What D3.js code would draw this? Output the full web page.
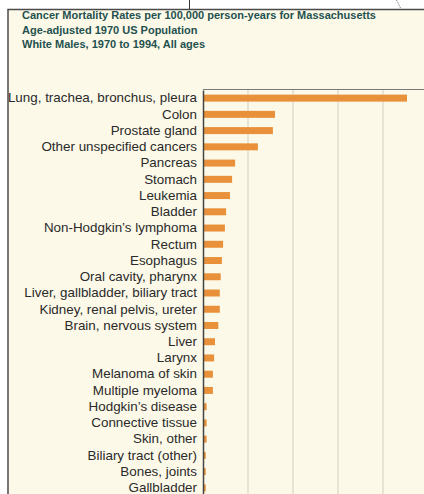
<!DOCTYPE html>
<html>
<head>
<meta charset="utf-8">
<script src="https://cdn.jsdelivr.net/npm/d3@7"></script>
<style>
html,body{margin:0;padding:0;background:#fff;}
svg{display:block;}
</style>
</head>
<body>
<svg id="chart" width="424" height="494"></svg>
<script>
const titleLines = [
  "Cancer Mortality Rates per 100,000 person-years for Massachusetts",
  "Age-adjusted 1970 US Population",
  "White Males, 1970 to 1994, All ages"
];
const categories = [
  "Lung, trachea, bronchus, pleura","Colon","Prostate gland","Other unspecified cancers",
  "Pancreas","Stomach","Leukemia","Bladder","Non-Hodgkin\u2019s lymphoma","Rectum",
  "Esophagus","Oral cavity, pharynx","Liver, gallbladder, biliary tract",
  "Kidney, renal pelvis, ureter","Brain, nervous system","Liver","Larynx",
  "Melanoma of skin","Multiple myeloma","Hodgkin\u2019s disease","Connective tissue",
  "Skin, other","Biliary tract (other)","Bones, joints","Gallbladder"
];
const rates = [
  68.0, 24.0, 23.3, 18.3,
  10.7, 9.7, 9.0, 7.7, 7.3, 6.7,
  6.3, 5.9, 5.6,
  5.6, 5.1, 4.0, 3.7,
  3.3, 3.3, 1.2, 1.2,
  1.2, 0.9, 0.9, 0.9
];
const gridTicks = [15, 30, 45, 60, 75];

const svg = d3.select("#chart");
const W = 424, H = 494;
const cream = "#fcf9e8";

svg.append("rect").attr("x",0).attr("y",0).attr("width",W).attr("height",H).attr("fill","#fff");
svg.append("line").attr("x1",189.5).attr("x2",189.5).attr("y1",0).attr("y2",9).attr("stroke","#333").attr("stroke-width",1);
svg.append("line").attr("x1",396.5).attr("y1",0).attr("x2",400.5).attr("y2",8)
  .attr("stroke","#666").attr("stroke-width",0.8).attr("stroke-dasharray","1.5,1");

svg.append("rect").attr("x",8).attr("y",9.5).attr("width",W).attr("height",H)
  .attr("fill",cream).attr("stroke","#4a4a4a").attr("stroke-width",1.5);

const title = svg.append("g").attr("font-family","Liberation Sans, Arial, sans-serif")
  .attr("font-weight","bold").attr("font-size","11px").attr("fill","#24514f");
titleLines.forEach((t,i)=>{
  title.append("text").attr("x",22).attr("y",19 + i*14.7).text(t);
});

const x = d3.scaleLinear().domain([0,75]).range([203,428]);
const y = d3.scaleBand().domain(categories).range([90,496]).paddingInner(0.57).paddingOuter(0.285);

svg.append("g").selectAll("line").data(gridTicks).join("line")
  .attr("x1",d=>x(d)).attr("x2",d=>x(d)).attr("y1",90).attr("y2",H)
  .attr("stroke","#e0dccf").attr("stroke-width",1.5);

svg.append("line").attr("x1",203).attr("x2",W).attr("y1",89.5).attr("y2",89.5)
  .attr("stroke","#7a7a7a").attr("stroke-width",1);

svg.append("g").selectAll("rect").data(categories).join("rect")
  .attr("x",x(0)).attr("y",d=>y(d))
  .attr("width",(d,i)=>x(rates[i])-x(0))
  .attr("height",y.bandwidth())
  .attr("fill","#e8913a");

const yAxis = d3.axisLeft(y).tickSize(0).tickPadding(6);
const ax = svg.append("g").attr("transform","translate(203,0)").call(yAxis);
ax.select(".domain").attr("stroke","#444").attr("stroke-width",1.5);
ax.selectAll("text").attr("font-family","Liberation Sans, Arial, sans-serif")
  .attr("font-size","13.4px").attr("fill","#2a2a2a");
</script>
</body>
</html>
